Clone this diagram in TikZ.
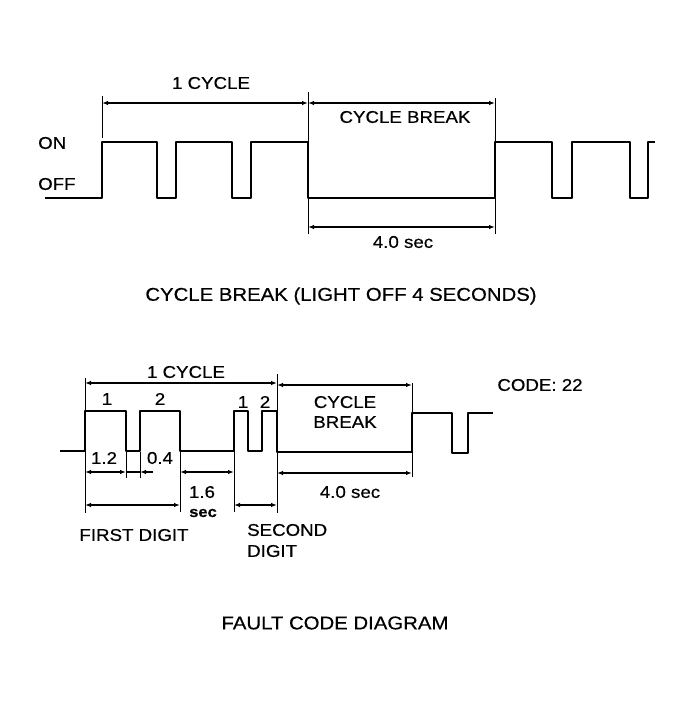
\documentclass[tikz,border=0pt]{standalone}
\usepackage{fontspec}
\setmainfont{Liberation Sans}[FakeStretch=1.1,FakeBold=0.5]
\usetikzlibrary{arrows.meta}
\tikzset{
  wave/.style={line width=2.6pt, line join=round},
  dimline/.style={line width=1.6pt, {Latex[length=6pt,width=4.5pt]}-{Latex[length=6pt,width=4.5pt]}},
  dimone/.style={line width=1.6pt, -{Latex[length=6pt,width=4.5pt]}},
  plainline/.style={line width=1.6pt},
  extline/.style={line width=0.9pt},
  lbl/.style={inner sep=0pt, font=\fontsize{17}{20}\selectfont},
  captext/.style={inner sep=0pt, font=\fontsize{18.5}{22}\selectfont}
}
\begin{document}
\begin{tikzpicture}[x=1pt,y=-1pt]
\useasboundingbox[fill=white] (0,0) rectangle (693,707);

% ---------------- top diagram ----------------
\draw[wave] (45,198) -- (102,198) -- (102,142) -- (157,142) -- (157,198) -- (176,198)
  -- (176,142) -- (232,142) -- (232,198) -- (251,198) -- (251,142) -- (308,142)
  -- (308,198) -- (495,198) -- (495,142) -- (552,142) -- (552,198) -- (572,198)
  -- (572,142) -- (630,142) -- (630,198) -- (648,198) -- (648,142) -- (655,142);

\coordinate (tA) at (102,103);
\coordinate (tB) at (308,103);
\coordinate (tC) at (495,103);
\coordinate (tD) at (308,227);
\coordinate (tE) at (495,227);

\draw[extline] (102,96) -- (102,138);
\draw[extline] (308,92) -- (308,142);
\draw[extline] (308,198) -- (308,234);
\draw[extline] (495,98) -- (495,142);
\draw[extline] (495,198) -- (495,234);

\draw[dimline] (tA) -- (tB);
\draw[dimline] (tB) -- (tC);
\draw[dimline] (tD) -- (tE);

\node[lbl] (tcycle) at (211,83) {1 CYCLE};
\node[lbl] (tbreak) at (405,117) {CYCLE BREAK};
\node[lbl, anchor=west] (ton) at (38,143) {ON};
\node[lbl, anchor=west] (toff) at (38,184) {OFF};
\node[lbl] (tfour) at (403,242) {4.0 sec};
\node[captext] (tcap) at (341,296) {CYCLE BREAK (LIGHT OFF 4 SECONDS)};

% ---------------- bottom diagram ----------------
\draw[wave] (60,451) -- (85,451) -- (85,411) -- (126,411) -- (126,451) -- (140,451)
  -- (140,411) -- (180,411) -- (180,451) -- (234,451) -- (234,411) -- (248,411)
  -- (248,451) -- (262,451) -- (262,411) -- (277,411) -- (277,452) -- (412,452)
  -- (412,413) -- (452,413) -- (452,453) -- (468,453) -- (468,413) -- (493,413);

\coordinate (bA) at (85,383);
\coordinate (bB) at (277,383);
\coordinate (bC) at (412,385);
\coordinate (bB2) at (277,385);
\coordinate (d1) at (85,472);
\coordinate (d2) at (126,472);
\coordinate (d3) at (140,472);
\coordinate (d4) at (153,472);
\coordinate (e1) at (180,472);
\coordinate (e2) at (234,472);
\coordinate (f1) at (85,505);
\coordinate (f2) at (180,505);
\coordinate (s1) at (234,505);
\coordinate (s2) at (277,505);
\coordinate (g1) at (277,473);
\coordinate (g2) at (412,473);

\draw[extline] (85,378) -- (85,411);
\draw[extline] (85,451) -- (85,513);
\draw[extline] (180,451) -- (180,512);
\draw[extline] (234,451) -- (234,512);
\draw[extline] (277,374) -- (277,411);
\draw[extline] (277,452) -- (277,513);
\draw[extline] (412,383) -- (412,413);
\draw[extline] (412,452) -- (412,477);
\draw[extline] (126,452) -- (126,478);
\draw[extline] (140,452) -- (140,478);

\draw[dimline] (bA) -- (bB);
\draw[dimline] (bB2) -- (bC);
\draw[dimline] (d1) -- (d2);
\draw[plainline] (d2) -- (d3);
\draw[dimone] (d4) -- (d3);
\draw[dimline] (e1) -- (e2);
\draw[dimline] (f1) -- (f2);
\draw[dimline] (s1) -- (s2);
\draw[dimline] (g1) -- (g2);

\node[lbl] (bcycle) at (186,372) {1 CYCLE};
\node[lbl] (p1) at (107,399) {1};
\node[lbl] (p2) at (160,399) {2};
\node[lbl] (q1) at (243,402) {1};
\node[lbl] (q2) at (265,402) {2};
\node[lbl, align=center] (bbreak) at (345,412) {CYCLE\\BREAK};
\node[lbl] (code) at (540,385) {CODE: 22};
\node[lbl] (v12) at (104,458) {1.2};
\node[lbl] (v04) at (160,458) {0.4};
\node[lbl] (v16) at (202,492) {1.6};
\node[lbl, font=\fontsize{15}{18}\selectfont\bfseries] (vsec) at (203,513) {sec};
\node[lbl] (bfour) at (350,492) {4.0 sec};
\node[lbl] (first) at (134,535) {FIRST DIGIT};
\node[lbl, anchor=west] (sec1) at (247,530) {SECOND};
\node[lbl, anchor=west] (sec2) at (247,551) {DIGIT};
\node[captext] (bcap) at (335,623) {FAULT CODE DIAGRAM};
\end{tikzpicture}
\end{document}
